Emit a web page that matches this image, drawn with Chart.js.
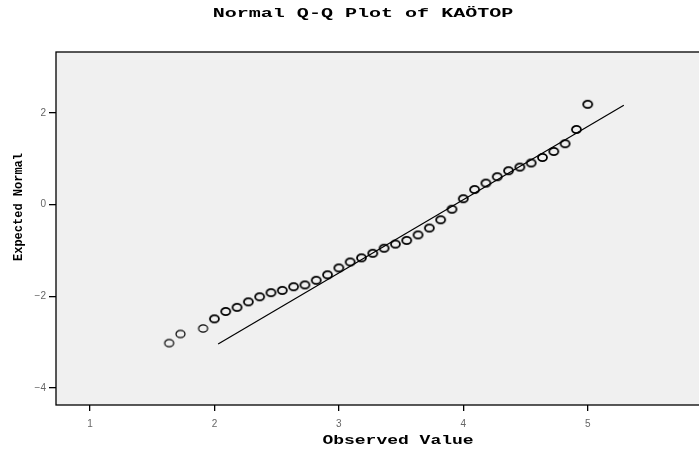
<!DOCTYPE html>
<html>
<head>
<meta charset="utf-8">
<script src="https://cdn.jsdelivr.net/npm/chart.js@4.4.1/dist/chart.umd.min.js"></script>
<style>
  body { margin: 0; background: #fff; }
  #wrap { width: 699px; height: 455px; }
</style>
</head>
<body>
<div id="wrap"><canvas id="chart"></canvas></div>
<script>
// observed values (steps of 1/11) and expected normal quantiles
const observed = [18, 19, 21, 22, 23, 24, 25, 26, 27, 28, 29, 30, 31, 32, 33, 34, 35, 36, 37,
  38, 39, 40, 41, 42, 43, 44, 45, 46, 47, 48, 49, 50, 51, 52, 53, 54, 55].map(k => k / 11);
const expected = [-3.02, -2.82, -2.70, -2.49, -2.33, -2.24, -2.12, -2.01, -1.92, -1.87, -1.79,
  -1.75, -1.65, -1.53, -1.38, -1.25, -1.16, -1.06, -0.95, -0.86, -0.78, -0.66, -0.51, -0.33,
  -0.10, 0.13, 0.33, 0.47, 0.61, 0.74, 0.82, 0.91, 1.03, 1.16, 1.33, 1.64, 2.19];
const lineX = [2.03, 5.29];
const lineY = [-3.04, 2.17];
const xTicks = [1, 2, 3, 4, 5];
const yTicks = [-4, -2, 0, 2];

function ringImage(lw) {
  const c = document.createElement('canvas');
  c.width = 13; c.height = 11;
  const g = c.getContext('2d');
  g.strokeStyle = '#000';
  g.lineWidth = lw;
  g.beginPath();
  g.ellipse(6.5, 5.5, 4.5, 3.6, 0, 0, Math.PI * 2);
  g.stroke();
  return c;
}
const thinRing = ringImage(1.2);
const boldRing = ringImage(1.8);

const monoFont = '"Liberation Mono", "Courier New", monospace';

const frame = {
  id: 'frame',
  beforeDraw(chart) {
    const { ctx, chartArea: a } = chart;
    ctx.save();
    ctx.fillStyle = '#f0f0f0';
    ctx.fillRect(a.left, a.top, chart.width - a.left + 10, a.bottom - a.top);
    ctx.strokeStyle = '#000';
    ctx.lineWidth = 1.3;
    ctx.strokeRect(a.left, a.top, chart.width - a.left + 10, a.bottom - a.top);
    ctx.restore();
  },
  afterDraw(chart) {
    const ctx = chart.ctx;
    ctx.save();
    ctx.fillStyle = '#000';
    ctx.textAlign = 'center';
    ctx.textBaseline = 'middle';
    ctx.font = 'bold 12px ' + monoFont;
    // title
    ctx.save();
    ctx.translate(363, 14);
    ctx.scale(1.67, 1);
    ctx.fillText('Normal Q-Q Plot of KAÖTOP', 0, 0);
    ctx.restore();
    // x title
    ctx.save();
    ctx.translate(398, 441);
    ctx.scale(1.5, 1);
    ctx.fillText('Observed Value', 0, 0);
    ctx.restore();
    // y title
    ctx.save();
    ctx.translate(19, 207);
    ctx.rotate(-Math.PI / 2);
    ctx.fillText('Expected Normal', 0, 0);
    ctx.restore();
    ctx.restore();
  }
};

new Chart(document.getElementById('chart'), {
  type: 'scatter',
  data: {
    datasets: [
      {
        data: observed.map((x, i) => ({ x, y: expected[i] })),
        pointStyle: ctx => ctx.dataIndex < 3 ? thinRing : boldRing,
        pointRadius: 5,
        pointHoverRadius: 5
      },
      {
        type: 'line',
        data: lineX.map((x, i) => ({ x, y: lineY[i] })),
        borderColor: '#000',
        borderWidth: 1.2,
        pointRadius: 0,
        fill: false
      }
    ]
  },
  options: {
    responsive: true,
    maintainAspectRatio: false,
    animation: false,
    layout: { padding: { top: 52, left: 0, right: 0, bottom: 0 } },
    plugins: { legend: { display: false }, title: { display: false }, tooltip: { enabled: false } },
    scales: {
      x: {
        type: 'linear',
        min: 0.727,
        max: 5.846,
        afterFit: s => { s.height = 50; },
        afterBuildTicks: s => { s.ticks = xTicks.map(v => ({ value: v })); },
        grid: { drawOnChartArea: false, drawTicks: true, tickLength: 6, color: '#000', lineWidth: 1.3 },
        border: { display: false },
        ticks: { color: '#666', padding: 7, font: { size: 10, family: 'Liberation Sans' } }
      },
      y: {
        type: 'linear',
        min: -4.37,
        max: 3.33,
        afterFit: s => { s.width = 56; },
        afterBuildTicks: s => { s.ticks = yTicks.map(v => ({ value: v })); },
        grid: { drawOnChartArea: false, drawTicks: true, tickLength: 7, color: '#000', lineWidth: 1.3 },
        border: { display: false },
        ticks: { color: '#666', padding: 3, font: { size: 10, family: 'Liberation Sans' },
          callback: v => v < 0 ? '\u2212' + Math.abs(v) : String(v) }
      }
    }
  },
  plugins: [frame]
});
</script>
</body>
</html>
